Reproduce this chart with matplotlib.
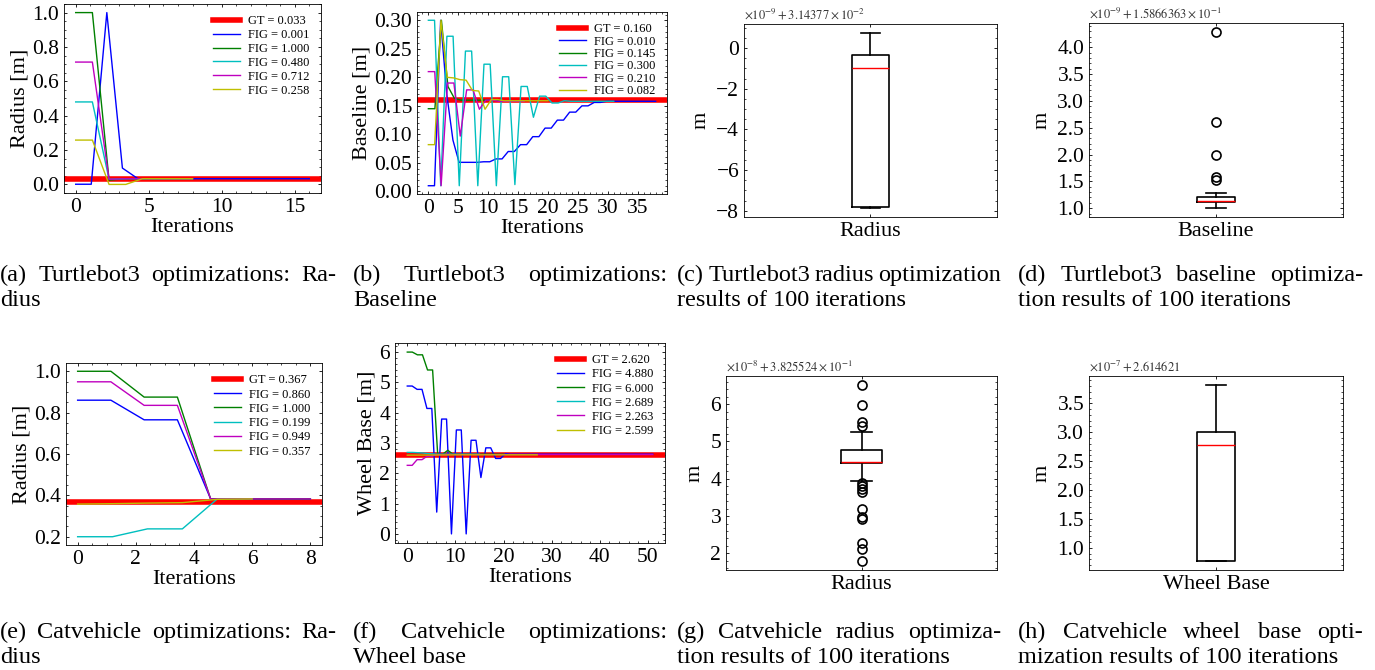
import numpy as np
import matplotlib
matplotlib.use('Agg')
import matplotlib.pyplot as plt
from matplotlib.ticker import MultipleLocator, AutoMinorLocator

plt.rcParams['font.family'] = ['Liberation Serif', 'DejaVu Serif']
plt.rcParams['mathtext.fontset'] = 'stix'
plt.rcParams['xtick.direction'] = 'in'
plt.rcParams['ytick.direction'] = 'in'
plt.rcParams['xtick.top'] = True
plt.rcParams['ytick.right'] = True
plt.rcParams['xtick.major.size'] = 2.5
plt.rcParams['ytick.major.size'] = 2.5
plt.rcParams['xtick.minor.size'] = 1.5
plt.rcParams['ytick.minor.size'] = 1.5
plt.rcParams['xtick.major.width'] = 0.6
plt.rcParams['ytick.major.width'] = 0.6
plt.rcParams['xtick.minor.width'] = 0.5
plt.rcParams['ytick.minor.width'] = 0.5
plt.rcParams['axes.linewidth'] = 0.6

W, H = 1375, 670
colors = ['b', 'g', 'c', 'm', 'y']

# (a) Turtlebot3 radius
tb_radius_gt = 0.033
tb_radius_fig = [0.001, 1.000, 0.480, 0.712, 0.258]
tb_radius_blue = [0.001, 0.001, 1.000, 0.095, 0.033, 0.033, 0.033, 0.033,
                  0.033, 0.033, 0.033, 0.033, 0.033, 0.033, 0.033, 0.033]
tb_radius_green = [1.000, 1.000, 0.025, 0.033, 0.033, 0.033, 0.033, 0.033]
tb_radius_cyan = [0.480, 0.480, 0.030, 0.033, 0.033, 0.033, 0.033, 0.033]
tb_radius_magenta = [0.712, 0.712, 0.030, 0.033, 0.033, 0.033, 0.033, 0.033]
tb_radius_yellow = [0.258, 0.258, 0.000, 0.000, 0.033, 0.033, 0.033, 0.033]

# (b) Turtlebot3 baseline
tb_base_gt = 0.160
tb_base_fig = [0.010, 0.145, 0.300, 0.210, 0.082]
tb_base_blue = [0.010, 0.010, 0.300, 0.170, 0.090, 0.051, 0.051, 0.051, 0.051, 0.052,
                0.052, 0.057, 0.057, 0.070, 0.070, 0.082, 0.082, 0.096, 0.096, 0.111,
                0.111, 0.125, 0.125, 0.139, 0.139, 0.150, 0.150, 0.156, 0.156, 0.158,
                0.158, 0.158, 0.158, 0.158, 0.158, 0.158, 0.158, 0.158]
tb_base_green = [0.145, 0.145, 0.300, 0.184, 0.163, 0.160, 0.160, 0.160, 0.160, 0.160,
                 0.160, 0.160]
tb_base_cyan = [0.300, 0.300, 0.010, 0.272, 0.272, 0.010, 0.246, 0.246, 0.010, 0.223,
                0.223, 0.010, 0.201, 0.201, 0.012, 0.184, 0.184, 0.130, 0.167, 0.167,
                0.155, 0.155, 0.159, 0.158, 0.158, 0.158, 0.158, 0.158, 0.158, 0.158,
                0.158]
tb_base_magenta = [0.210, 0.210, 0.010, 0.190, 0.190, 0.097, 0.178, 0.178, 0.144, 0.160,
                   0.160, 0.158, 0.158, 0.158, 0.158, 0.158]
tb_base_yellow = [0.082, 0.082, 0.300, 0.200, 0.199, 0.196, 0.195, 0.177, 0.176, 0.144,
                  0.161, 0.161, 0.159, 0.159, 0.159, 0.159, 0.159, 0.159, 0.159, 0.159]

# (e) Catvehicle radius
cv_radius_gt = 0.367
cv_radius_fig = [0.860, 1.000, 0.199, 0.949, 0.357]
cv_radius_blue = [0.860, 0.860, 0.765, 0.765, 0.382, 0.382, 0.382, 0.382]
cv_radius_green = [1.000, 1.000, 0.875, 0.875, 0.382, 0.382, 0.382, 0.382]
cv_radius_cyan = [0.199, 0.199, 0.237, 0.237, 0.382, 0.382]
cv_radius_magenta = [0.949, 0.949, 0.835, 0.835, 0.382, 0.382, 0.382, 0.382]
cv_radius_yellow = [0.357, 0.359, 0.362, 0.364, 0.380, 0.382]

# (f) Catvehicle wheel base
cv_wb_gt = 2.620
cv_wb_fig = [4.880, 6.000, 2.689, 2.263, 2.599]
cv_wb_blue = [4.88, 4.88, 4.77, 4.77, 4.14, 4.14, 0.72, 3.79, 3.79, 0.00,
              3.43, 3.43, 0.00, 3.09, 3.09, 1.86, 2.84, 2.84, 2.49, 2.49,
              2.65, 2.63, 2.63, 2.63, 2.63, 2.63, 2.63, 2.63, 2.63, 2.63,
              2.63, 2.63, 2.63, 2.63, 2.63, 2.63, 2.63, 2.63, 2.63, 2.63,
              2.63, 2.63, 2.63, 2.63, 2.63, 2.63, 2.63, 2.63, 2.63, 2.63,
              2.63]
cv_wb_green = [6.00, 6.00, 5.91, 5.91, 5.41, 5.41, 2.63, 2.63, 2.76, 2.63,
               2.63, 2.63, 2.63, 2.63, 2.63, 2.63, 2.63, 2.63, 2.63, 2.63]
cv_wb_cyan = [2.689, 2.689, 2.680, 2.670, 2.650, 2.640, 2.630, 2.630, 2.630, 2.630,
              2.630, 2.630, 2.630, 2.630, 2.630]
cv_wb_magenta = [2.263, 2.263, 2.450, 2.450, 2.560, 2.560, 2.620, 2.620, 2.620, 2.620,
                 2.620, 2.620, 2.620, 2.620, 2.620, 2.620, 2.620, 2.620, 2.620, 2.620,
                 2.620, 2.620, 2.620, 2.620, 2.620, 2.620, 2.620, 2.620, 2.620, 2.620,
                 2.620, 2.620, 2.620, 2.620, 2.620, 2.620, 2.620, 2.620, 2.620, 2.620,
                 2.620, 2.620, 2.620, 2.620, 2.620, 2.620, 2.620, 2.620, 2.620, 2.620,
                 2.620]
cv_wb_yellow = [2.599, 2.600, 2.600, 2.601, 2.602, 2.603, 2.605, 2.606, 2.607, 2.608,
                2.609, 2.610, 2.610, 2.610, 2.610, 2.610, 2.610, 2.610, 2.610, 2.610,
                2.610, 2.610, 2.610, 2.610, 2.610, 2.610, 2.610]

# box plot statistics (values relative to the offset shown on the axis)
tb_radius_box = dict(label='Radius', whislo=-7.88, q1=-7.80, med=-0.97, q3=-0.35,
                     whishi=0.75, fliers=[])
tb_radius_offset = r'$\times10^{-9}+3.14377\times10^{-2}$'
tb_base_box = dict(label='Baseline', whislo=1.00, q1=1.12, med=1.135, q3=1.21,
                   whishi=1.29, fliers=[4.29, 2.61, 2.00, 1.59, 1.53])
tb_base_offset = r'$\times10^{-9}+1.5866363\times10^{-1}$'
cv_radius_box = dict(label='Radius', whislo=3.94, q1=4.43, med=4.44, q3=4.77,
                     whishi=5.26, fliers=[6.52, 5.97, 5.52, 5.42, 3.88, 3.80, 3.73, 3.64,
                                          3.18, 2.98, 2.93, 2.29, 2.13, 1.79])
cv_radius_offset = r'$\times10^{-8}+3.825524\times10^{-1}$'
cv_wb_box = dict(label='Wheel Base', whislo=0.77, q1=0.77, med=2.776, q3=3.01,
                 whishi=3.82, fliers=[])
cv_wb_offset = r'$\times10^{-7}+2.614621$'

fig = plt.figure(figsize=(W / 100, H / 100), dpi=100)


def rect(x0, y0, x1, y1):
    # pixel box (top-left origin) -> figure fraction
    return [x0 / W, 1 - y1 / H, (x1 - x0) / W, (y1 - y0) / H]


def line_panel(box, gt, figs, runs, ylabel, xstep, ystep, spacing):
    ax = fig.add_axes(rect(*box))
    ax.axhline(gt, color='r', lw=4, label='GT = %.3f' % gt)
    for c, f, y in zip(colors, figs, runs):
        x = np.linspace(0, len(y), len(y))
        ax.plot(x, y, color=c, lw=1.0, label='FIG = %.3f' % f)
    ax.xaxis.set_major_locator(MultipleLocator(xstep))
    ax.yaxis.set_major_locator(MultipleLocator(ystep))
    ax.xaxis.set_minor_locator(AutoMinorLocator())
    ax.yaxis.set_minor_locator(AutoMinorLocator())
    ax.tick_params(labelsize=15.5)
    ax.set_xlabel('Iterations', fontsize=16, labelpad=1)
    ax.set_ylabel(ylabel, fontsize=16, labelpad=2)
    ax.legend(loc='upper right', frameon=False, fontsize=9, handlelength=2.2,
              labelspacing=spacing, borderaxespad=0.5, handletextpad=0.65)
    return ax


def box_panel(box, stats, offset, ystep):
    ax = fig.add_axes(rect(*box))
    ax.bxp([stats], widths=0.15,
           boxprops=dict(color='k', lw=1.2),
           medianprops=dict(color='r', lw=1.0),
           whiskerprops=dict(color='k', lw=1.2),
           capprops=dict(color='k', lw=1.2),
           flierprops=dict(marker='o', mfc='none', mec='k', ms=6.5, mew=1.2))
    ax.set_xlim(0.5, 1.5)
    ax.yaxis.set_major_locator(MultipleLocator(ystep))
    ax.yaxis.set_minor_locator(AutoMinorLocator())
    ax.tick_params(axis='y', labelsize=15.5)
    ax.tick_params(axis='x', labelsize=16)
    ax.set_ylabel('m', fontsize=16)
    ax.text(0, 1.01, offset, transform=ax.transAxes, ha='left', va='bottom',
            fontsize=9, color='0.2')
    return ax


line_panel((64, 4, 321, 193), tb_radius_gt, tb_radius_fig,
           [tb_radius_blue, tb_radius_green, tb_radius_cyan, tb_radius_magenta, tb_radius_yellow],
           'Radius [m]', 5, 0.2, 0.15)
line_panel((417, 12, 667, 194), tb_base_gt, tb_base_fig,
           [tb_base_blue, tb_base_green, tb_base_cyan, tb_base_magenta, tb_base_yellow],
           'Baseline [m]', 5, 0.05, 0.03)
box_panel((744, 24, 997, 217), tb_radius_box, tb_radius_offset, 2)
box_panel((1089, 23, 1343, 217), tb_base_box, tb_base_offset, 0.5)

line_panel((66, 363, 322, 545), cv_radius_gt, cv_radius_fig,
           [cv_radius_blue, cv_radius_green, cv_radius_cyan, cv_radius_magenta, cv_radius_yellow],
           'Radius [m]', 2, 0.2, 0.18)
line_panel((395, 343, 665, 543), cv_wb_gt, cv_wb_fig,
           [cv_wb_blue, cv_wb_green, cv_wb_cyan, cv_wb_magenta, cv_wb_yellow],
           'Wheel Base [m]', 10, 1, 0.17)
box_panel((726, 376, 997, 570), cv_radius_box, cv_radius_offset, 1)
box_panel((1089, 376, 1343, 570), cv_wb_box, cv_wb_offset, 0.5)

# captions: first line justified across the column, second line left aligned
renderer = fig.canvas.get_renderer()
cap_size = 17.5


def justify(line, x0, x1, y):
    words = line.split(' ')
    texts = [fig.text(0, 1 - y / H, w, fontsize=cap_size, va='baseline') for w in words]
    widths = [t.get_window_extent(renderer).width for t in texts]
    gap = (x1 - x0 - sum(widths)) / max(len(words) - 1, 1)
    gap = max(gap, 3)
    x = x0
    for t, w in zip(texts, widths):
        t.set_x(x / W)
        x += w + gap


def caption(x0, x1, y, first, second):
    justify(first, x0, x1, y)
    fig.text(x0 / W, 1 - (y + 25) / H, second, fontsize=cap_size, va='baseline')


caption(0, 336, 281, '(a) Turtlebot3 optimizations: Ra-', 'dius')
caption(353, 667, 281, '(b) Turtlebot3 optimizations:', 'Baseline')
caption(677, 1001, 281, '(c) Turtlebot3 radius optimization', 'results of 100 iterations')
caption(1018, 1363, 281, '(d) Turtlebot3 baseline optimiza-', 'tion results of 100 iterations')
caption(0, 336, 638, '(e) Catvehicle optimizations: Ra-', 'dius')
caption(353, 667, 638, '(f) Catvehicle optimizations:', 'Wheel base')
caption(677, 1001, 638, '(g) Catvehicle radius optimiza-', 'tion results of 100 iterations')
caption(1018, 1363, 638, '(h) Catvehicle wheel base opti-', 'mization results of 100 iterations')

fig.savefig('out.png', dpi=100)
